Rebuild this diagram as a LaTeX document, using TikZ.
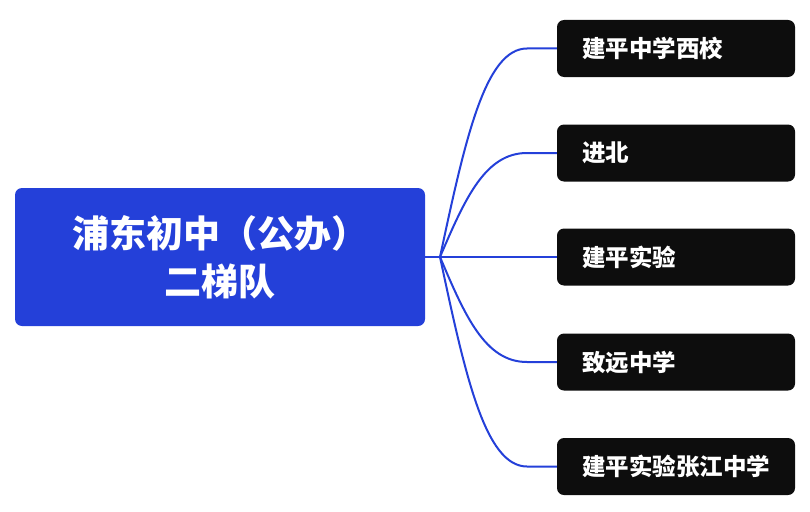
\documentclass[tikz,border=0pt]{standalone}
\usepackage{fontspec}
\newfontfamily\cjk{Noto Sans CJK SC}
\definecolor{mapblue}{HTML}{2440D9}
\definecolor{leafblack}{HTML}{0D0D0D}
\begin{document}
\begin{tikzpicture}[x=1pt,y=-1pt,
  root/.style={fill=mapblue, rounded corners=7pt, minimum width=410pt, minimum height=138pt,
    text=white, align=center, font=\cjk\bfseries\fontsize{37}{48}\selectfont},
  leaf/.style={fill=leafblack, rounded corners=7pt, minimum height=57pt, text width=188pt,
    inner xsep=25pt, align=left, text=white, font=\cjk\bfseries\fontsize{23.5}{28}\selectfont},
  link/.style={draw=mapblue, line width=2pt}]
\useasboundingbox (0,0) rectangle (810,511);
\node[root] (root) at (220,257) {浦东初中（公办）\\二梯队};
\coordinate (hub) at (440,257);
\draw[link] (root.east) -- (hub);
\foreach \name/\ypos/\txt in {xixiao/48.5/建平中学西校, jinbei/153/进北, shiyan/257/建平实验,
    zhiyuan/362/致远中学, zhangjiang/466.5/建平实验张江中学}{
  \node[leaf] (\name) at (676,\ypos) {\txt};
  \draw[link] (hub) .. controls (465,{257+0.56*(\ypos-257)}) and (485,\ypos) .. (527,\ypos) -- (\name.west);
}
\end{tikzpicture}
\end{document}
